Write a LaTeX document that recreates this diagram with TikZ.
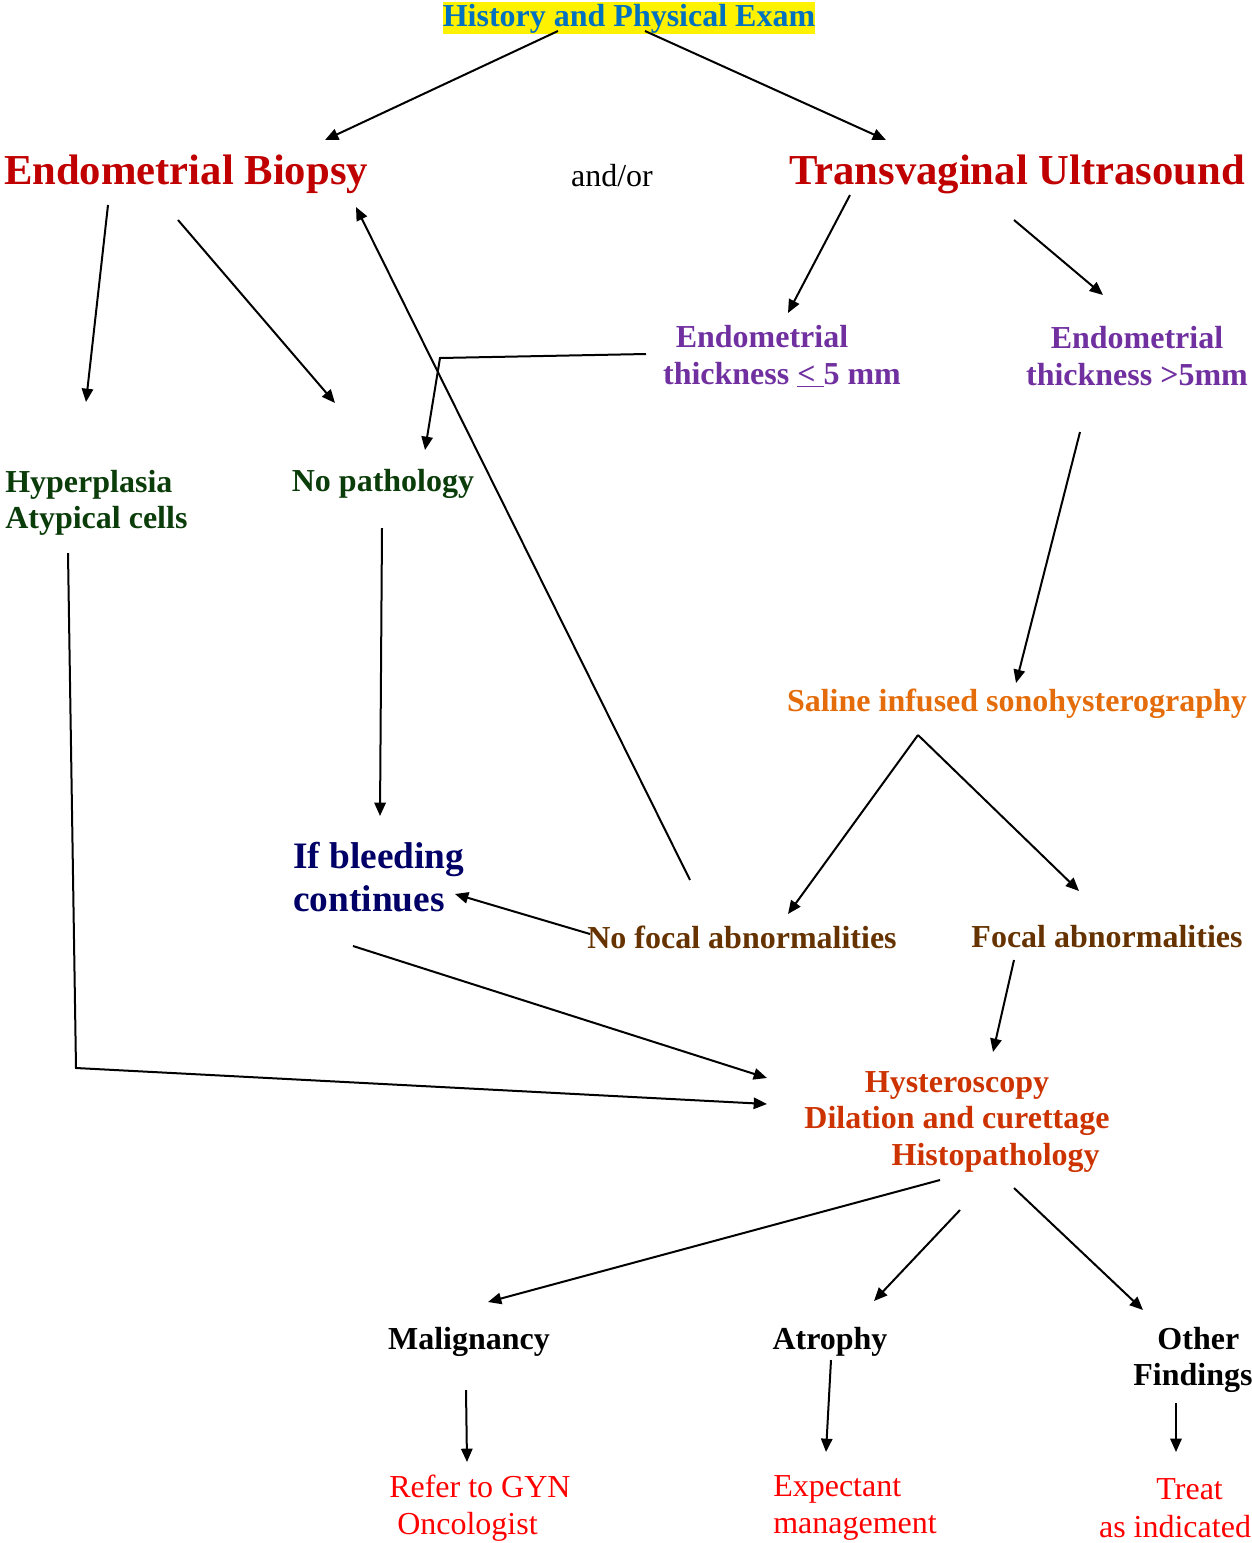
\documentclass[tikz,border=0pt]{standalone}
\usepackage{fontspec}
\setmainfont{Liberation Serif}
\usetikzlibrary{arrows.meta,calc}
\definecolor{cazul}{HTML}{0070C0}
\definecolor{crojo}{HTML}{C00000}
\definecolor{cmorado}{HTML}{7030A0}
\definecolor{cverde}{HTML}{0B3D0B}
\definecolor{cmarino}{HTML}{000066}
\definecolor{cnaranja}{HTML}{E46C0A}
\definecolor{cmarron}{HTML}{663300}
\definecolor{cteja}{HTML}{CC3300}
\definecolor{cfin}{HTML}{FF0000}
\tikzset{
  paso/.style={inner sep=0pt, font=\bfseries\fontsize{24}{27.5}\selectfont},
  titulo/.style={paso, text=crojo, font=\bfseries\fontsize{32}{36}\selectfont},
  medida/.style={paso, text=cmorado, align=center},
  fin/.style={inner sep=0pt, text=cfin, font=\fontsize{24}{28}\selectfont},
  flecha/.style={-{Triangle[length=10pt,width=8.5pt]}, line width=1.5pt},
}

\begin{document}
\begin{tikzpicture}[x=0.75pt, y=-0.75pt]
  \useasboundingbox (0,0) rectangle (1252,1543);

  \node[paso, fill=yellow, text=cazul, text height=18pt, text depth=6pt] (hist) at (629,18) {History and Physical Exam};
  \node[titulo] (ebx) at (186,174) {Endometrial Biopsy};
  \node[paso, font=\fontsize{24}{28}\selectfont] (andor) at (612,176) {and/or};
  \node[titulo] (tvus) at (1017,174) {Transvaginal Ultrasound};
  \node[medida] (delgado) at (782,356) {\hspace*{-30pt}Endometrial\\thickness \underline{< }5 mm};
  \node[medida] (grueso) at (1137,356) {Endometrial\\thickness >5mm};
  \node[paso, text=cverde, align=left, anchor=west] (hiper) at (5,503) {Hyperplasia\\Atypical cells};
  \node[paso, text=cverde] (nopat) at (383,484) {No pathology};
  \node[paso, text=cmarino, align=left, anchor=west, font=\bfseries\fontsize{28}{32}\selectfont] (sangra) at (293,877) {If bleeding\\continues};
  \node[paso, text=cnaranja] (sis) at (1017,704) {Saline infused sonohysterography};
  \node[paso, text=cmarron] (nofocal) at (742,937) {No focal abnormalities};
  \node[paso, text=cmarron] (focal) at (1107,937) {Focal abnormalities};
  \node[paso, text=cteja, align=center] (histero) at (957,1122) {Hysteroscopy\\Dilation and curettage\\\hspace*{58pt}Histopathology};
  \node[paso] (malig) at (469,1342) {Malignancy};
  \node[paso] (atrofia) at (830,1342) {Atrophy};
  \node[paso, align=center] (otros) at (1193,1360) {\hspace*{8pt}Other\\Findings};
  \node[fin, align=left, anchor=west] (gyn) at (389,1508) {Refer to GYN\\\hspace*{6pt}Oncologist};
  \node[fin, align=left, anchor=west] (espera) at (773,1508) {Expectant\\management};
  \node[fin, align=center] (tratar) at (1175,1508) {\hspace*{22pt}Treat\\as indicated};

  % first step
  \draw[flecha] ($(hist)+(-71,13)$) -- ($(ebx)+(139,-34)$);
  \draw[flecha] ($(hist)+(16,13)$) -- ($(tvus)+(-131,-34)$);
  % biopsy side
  \draw[flecha] ($(ebx)+(-78,31)$) -- ($(hiper.west)+(81,-101)$);
  \draw[flecha] ($(ebx)+(-8,46)$) -- ($(nopat)+(-48,-81)$);
  % ultrasound side
  \draw[flecha] ($(tvus)+(-167,21)$) -- ($(delgado)+(6,-43)$);
  \draw[flecha] ($(tvus)+(-3,46)$) -- ($(grueso)+(-34,-61)$);
  \draw[flecha] ($(delgado)+(-136,-2)$) -- ($(delgado)+(-342,2)$) -- ($(nopat)+(42,-34)$);
  \draw[flecha] ($(grueso)+(-57,76)$) -- ($(sis)+(-1,-21)$);
  \draw[flecha] ($(sis)+(-99,31)$) -- ($(nofocal)+(46,-23)$);
  \draw[flecha] ($(sis)+(-99,31)$) -- ($(focal)+(-28,-46)$);
  \draw[flecha] ($(nofocal)+(-52,-57)$) -- ($(ebx)+(170,33)$);
  \draw[flecha] ($(nofocal)+(-152,-3)$) -- ($(sangra.west)+(162,17)$);
  \draw[flecha] ($(nopat)+(-1,44)$) -- ($(sangra.west)+(87,-61)$);
  % towards hysteroscopy
  \draw[flecha] ($(hiper.west)+(63,50)$) -- ($(hiper.west)+(71,565)$) -- ($(histero)+(-190,-18)$);
  \draw[flecha] ($(sangra.west)+(60,69)$) -- ($(histero)+(-190,-44)$);
  \draw[flecha] ($(focal)+(-93,23)$) -- ($(histero)+(36,-70)$);
  % results
  \draw[flecha] ($(histero)+(-17,58)$) -- ($(malig)+(19,-40)$);
  \draw[flecha] ($(histero)+(3,88)$) -- ($(atrofia)+(44,-41)$);
  \draw[flecha] ($(histero)+(57,66)$) -- ($(otros)+(-50,-50)$);
  \draw[flecha] ($(malig)+(-3,48)$) -- ($(gyn.west)+(78,-46)$);
  \draw[flecha] ($(atrofia)+(1,18)$) -- ($(espera.west)+(53,-56)$);
  \draw[flecha] ($(otros)+(-17,43)$) -- ($(tratar)+(1,-56)$);
\end{tikzpicture}
\end{document}
